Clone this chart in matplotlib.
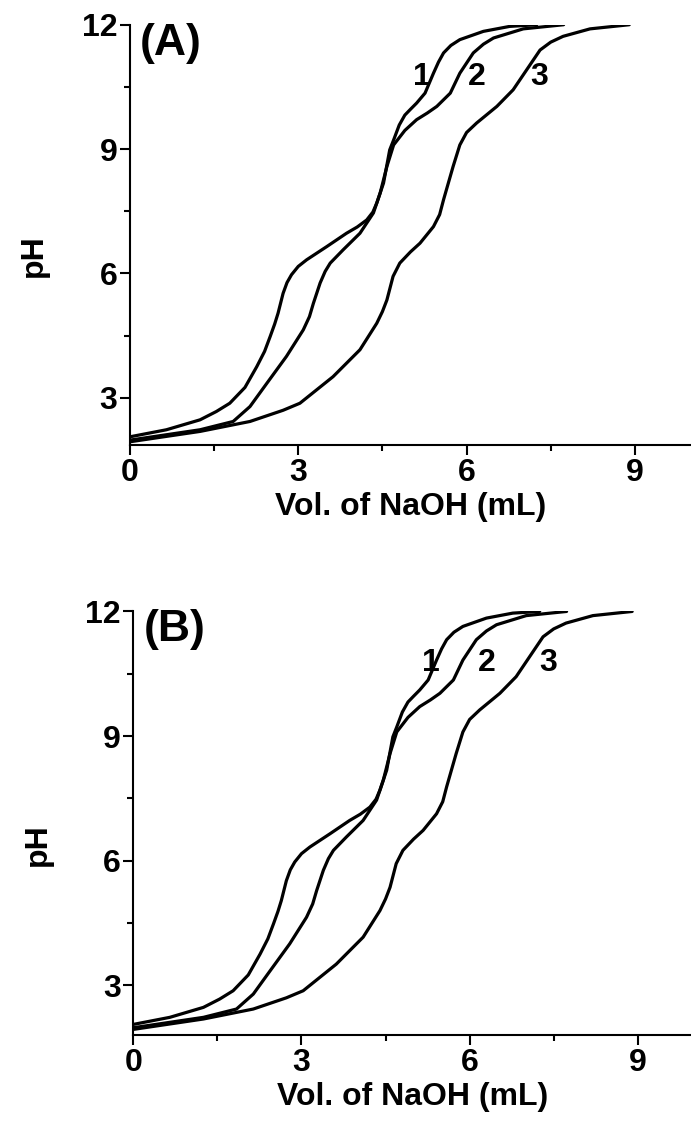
import matplotlib
matplotlib.use("Agg")
import matplotlib.pyplot as plt
from matplotlib.ticker import MultipleLocator

plt.rcParams['font.family'] = ['Liberation Sans', 'DejaVu Sans']
plt.rcParams['font.weight'] = 'bold'
plt.rcParams['axes.labelweight'] = 'bold'

# ---- Panel A data (Vol. NaOH in mL, pH) ----
a_v1 = [0, 0.65, 1.25, 1.54, 1.78, 2.05, 2.26, 2.40, 2.50, 2.58, 2.64, 2.73, 2.80, 2.88, 3.00, 3.15, 3.51, 3.86, 4.05, 4.22, 4.33, 4.40, 4.52, 4.63, 4.70, 4.80, 4.90, 5.00, 5.11, 5.26, 5.41, 5.50, 5.59, 5.72, 5.88, 6.30, 6.77, 7.25]
a_p1 = [2.06, 2.23, 2.47, 2.67, 2.87, 3.25, 3.75, 4.12, 4.48, 4.78, 5.04, 5.52, 5.78, 5.97, 6.17, 6.33, 6.65, 6.97, 7.12, 7.29, 7.48, 7.70, 8.18, 8.98, 9.22, 9.58, 9.82, 9.96, 10.11, 10.35, 10.83, 11.10, 11.32, 11.50, 11.64, 11.84, 11.96, 12.0]
a_v2 = [0, 1.25, 1.84, 2.14, 2.44, 2.79, 3.09, 3.20, 3.27, 3.39, 3.48, 3.57, 3.80, 4.10, 4.34, 4.46, 4.58, 4.70, 4.90, 5.11, 5.30, 5.47, 5.71, 5.88, 6.12, 6.30, 6.48, 7.01, 7.73]
a_p2 = [1.98, 2.23, 2.43, 2.79, 3.35, 4.00, 4.64, 4.96, 5.28, 5.77, 6.05, 6.25, 6.57, 6.97, 7.46, 7.94, 8.58, 9.10, 9.45, 9.71, 9.87, 10.03, 10.35, 10.83, 11.32, 11.53, 11.68, 11.90, 12.0]
a_v3 = [0, 1.25, 2.14, 2.73, 3.03, 3.62, 4.10, 4.40, 4.50, 4.58, 4.69, 4.81, 5.00, 5.17, 5.41, 5.52, 5.59, 5.76, 5.88, 6.00, 6.18, 6.54, 6.83, 7.07, 7.31, 7.50, 7.72, 8.20, 8.90]
a_p3 = [1.94, 2.19, 2.43, 2.70, 2.87, 3.51, 4.16, 4.80, 5.08, 5.36, 5.93, 6.25, 6.52, 6.73, 7.13, 7.42, 7.78, 8.58, 9.10, 9.40, 9.63, 10.03, 10.43, 10.91, 11.39, 11.58, 11.72, 11.90, 12.0]

# ---- Panel B data ----
b_v1 = list(a_v1)
b_p1 = list(a_p1)
b_v2 = list(a_v2)
b_p2 = list(a_p2)
b_v3 = list(a_v3)
b_p3 = list(a_p3)

curve_labels = ["1", "2", "3"]
a_label_x = [5.20, 6.18, 7.29]
b_label_x = [5.30, 6.30, 7.40]
label_y = 10.75
panel_names = ["(A)", "(B)"]
x_ticks = [0, 3, 6, 9]
y_ticks = [3, 6, 9, 12]
x_label = "Vol. of NaOH (mL)"
y_label = "pH"

FS = 23

fig = plt.figure(figsize=(6.91, 11.24), dpi=100)
ax_a = fig.add_axes([0.188, 0.604, 0.812, 0.374])
ax_b = fig.add_axes([0.193, 0.079, 0.807, 0.377])

panels = [
    (ax_a, [(a_v1, a_p1), (a_v2, a_p2), (a_v3, a_p3)], a_label_x, 1.86, 10.0, panel_names[0]),
    (ax_b, [(b_v1, b_p1), (b_v2, b_p2), (b_v3, b_p3)], b_label_x, 1.80, 9.95, panel_names[1]),
]

for ax, curves, lx, ymin, xmax, name in panels:
    for v, p in curves:
        ax.plot(v, p, color='black', lw=2.3, solid_joinstyle='round', solid_capstyle='round')
    for lab, x in zip(curve_labels, lx):
        ax.text(x, label_y, lab, fontsize=FS, ha='center', va='center', color='black')
    ax.text(0.18, 12.05, name, fontsize=32, fontweight='bold', ha='left', va='top')
    ax.set_xlim(0, xmax)
    ax.set_ylim(ymin, 12)
    ax.set_xticks(x_ticks)
    ax.set_yticks(y_ticks)
    ax.xaxis.set_minor_locator(MultipleLocator(1.5))
    ax.yaxis.set_minor_locator(MultipleLocator(1.5))
    for s in ['top', 'right']:
        ax.spines[s].set_visible(False)
    for s in ['left', 'bottom']:
        ax.spines[s].set_linewidth(1.5)
    ax.tick_params(which='major', direction='out', length=7, width=1.5, labelsize=FS, pad=2)
    ax.tick_params(which='minor', direction='out', length=4, width=1.5)
    ax.set_xlabel(x_label, fontsize=FS, labelpad=3)
    ax.set_ylabel(y_label, fontsize=FS)
    ax.yaxis.set_label_coords(-0.145, 0.45)
    ax.patch.set_alpha(0)

fig.savefig("out.png", dpi=100)
